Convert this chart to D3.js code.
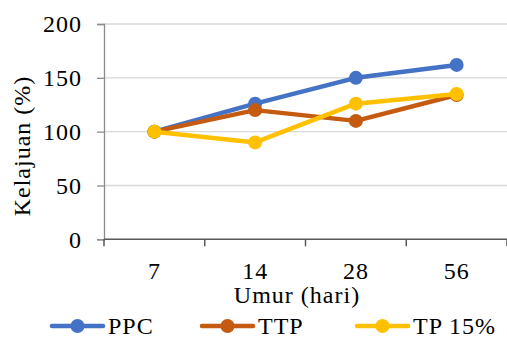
<!DOCTYPE html>
<html>
<head>
<meta charset="utf-8">
<script src="https://cdn.jsdelivr.net/npm/d3@7"></script>
<style>
  html, body { margin: 0; padding: 0; background: #fff; }
  svg { display: block; }
  svg text { font-family: "Liberation Serif", "Times New Roman", Times, serif !important; fill: #000; letter-spacing: 1px; }
</style>
</head>
<body>
<script>
const categories = ["7", "14", "28", "56"];
const yTicks = [0, 50, 100, 150, 200];
const ppc = [100, 126, 150, 162];
const ttp = [100, 120, 110, 134];
const tp15 = [100, 90, 126, 135];

const series = [
  { name: "PPC", values: ppc, color: "#4472C4" },
  { name: "TTP", values: ttp, color: "#C55A11" },
  { name: "TP 15%", values: tp15, color: "#FFC000" }
];

const width = 507;
const height = 338;
const plotLeft = 104, plotRight = 507, plotTop = 24, plotBottom = 239.3;

const svg = d3.select("body")
  .append("svg")
  .attr("width", width)
  .attr("height", height);

svg.append("rect").attr("width", width).attr("height", height).attr("fill", "white");

const x = d3.scaleBand().domain(categories).range([plotLeft, plotRight]).padding(0);
const y = d3.scaleLinear().domain([0, 200]).range([plotBottom, plotTop]);

// gridlines
svg.append("g")
  .selectAll("line")
  .data(yTicks.filter(d => d > 0))
  .join("line")
  .attr("x1", plotLeft).attr("x2", plotRight)
  .attr("y1", d => y(d)).attr("y2", d => y(d))
  .attr("stroke", "#d9d9d9")
  .attr("stroke-width", 1.3);

// left axis
const yAxis = svg.append("g")
  .attr("transform", "translate(" + plotLeft + ",0)")
  .call(d3.axisLeft(y).tickValues(yTicks).tickSize(7).tickPadding(15));
yAxis.select(".domain").attr("stroke", "#8c8c8c").attr("stroke-width", 1.3);
yAxis.selectAll(".tick line").attr("stroke", "#8c8c8c").attr("stroke-width", 1.3);
yAxis.selectAll(".tick text")
  .attr("font-size", 24)
  .attr("dy", "0.33em");

// bottom axis
svg.append("line")
  .attr("x1", plotLeft).attr("x2", plotRight)
  .attr("y1", plotBottom).attr("y2", plotBottom)
  .attr("stroke", "#595959").attr("stroke-width", 1.5);
const edges = categories.map(c => x(c)).concat([x(categories[categories.length - 1]) + x.bandwidth()]);
svg.append("g")
  .selectAll("line")
  .data(edges)
  .join("line")
  .attr("x1", d => d).attr("x2", d => d)
  .attr("y1", plotBottom).attr("y2", plotBottom + 7)
  .attr("stroke", "#595959").attr("stroke-width", 1.5);
svg.append("g")
  .selectAll("text")
  .data(categories)
  .join("text")
  .attr("x", d => x(d) + x.bandwidth() / 2)
  .attr("y", 279)
  .attr("text-anchor", "middle")
  .attr("font-size", 24)
  .text(d => d);

// axis titles
svg.append("text")
  .attr("x", 297)
  .attr("y", 303)
  .attr("text-anchor", "middle")
  .attr("font-size", 24)
  .text("Umur (hari)");
svg.append("text")
  .attr("transform", "translate(30,146) rotate(-90)")
  .attr("text-anchor", "middle")
  .attr("font-size", 24)
  .text("Kelajuan (%)");

// lines
const line = d3.line()
  .x((d, i) => x(categories[i]) + x.bandwidth() / 2)
  .y(d => y(d));

series.forEach(s => {
  const g = svg.append("g");
  g.append("path")
    .datum(s.values)
    .attr("fill", "none")
    .attr("stroke", s.color)
    .attr("stroke-width", 4.5)
    .attr("stroke-linejoin", "round")
    .attr("stroke-linecap", "round")
    .attr("d", line);
  g.selectAll("circle")
    .data(s.values)
    .join("circle")
    .attr("cx", (d, i) => x(categories[i]) + x.bandwidth() / 2)
    .attr("cy", d => y(d))
    .attr("r", 7)
    .attr("fill", s.color);
});

// legend
const legendX = [52, 202, 357];
const legendY = 326;
const legend = svg.append("g")
  .selectAll("g")
  .data(series)
  .join("g")
  .attr("transform", (d, i) => "translate(" + legendX[i] + "," + legendY + ")");
legend.append("line")
  .attr("x1", 0).attr("x2", 51)
  .attr("stroke", d => d.color)
  .attr("stroke-width", 4.5)
  .attr("stroke-linecap", "round");
legend.append("circle")
  .attr("cx", 25.5).attr("r", 7)
  .attr("fill", d => d.color);
legend.append("text")
  .attr("x", 56)
  .attr("y", 8)
  .attr("font-size", 24)
  .text(d => d.name);
</script>
</body>
</html>
